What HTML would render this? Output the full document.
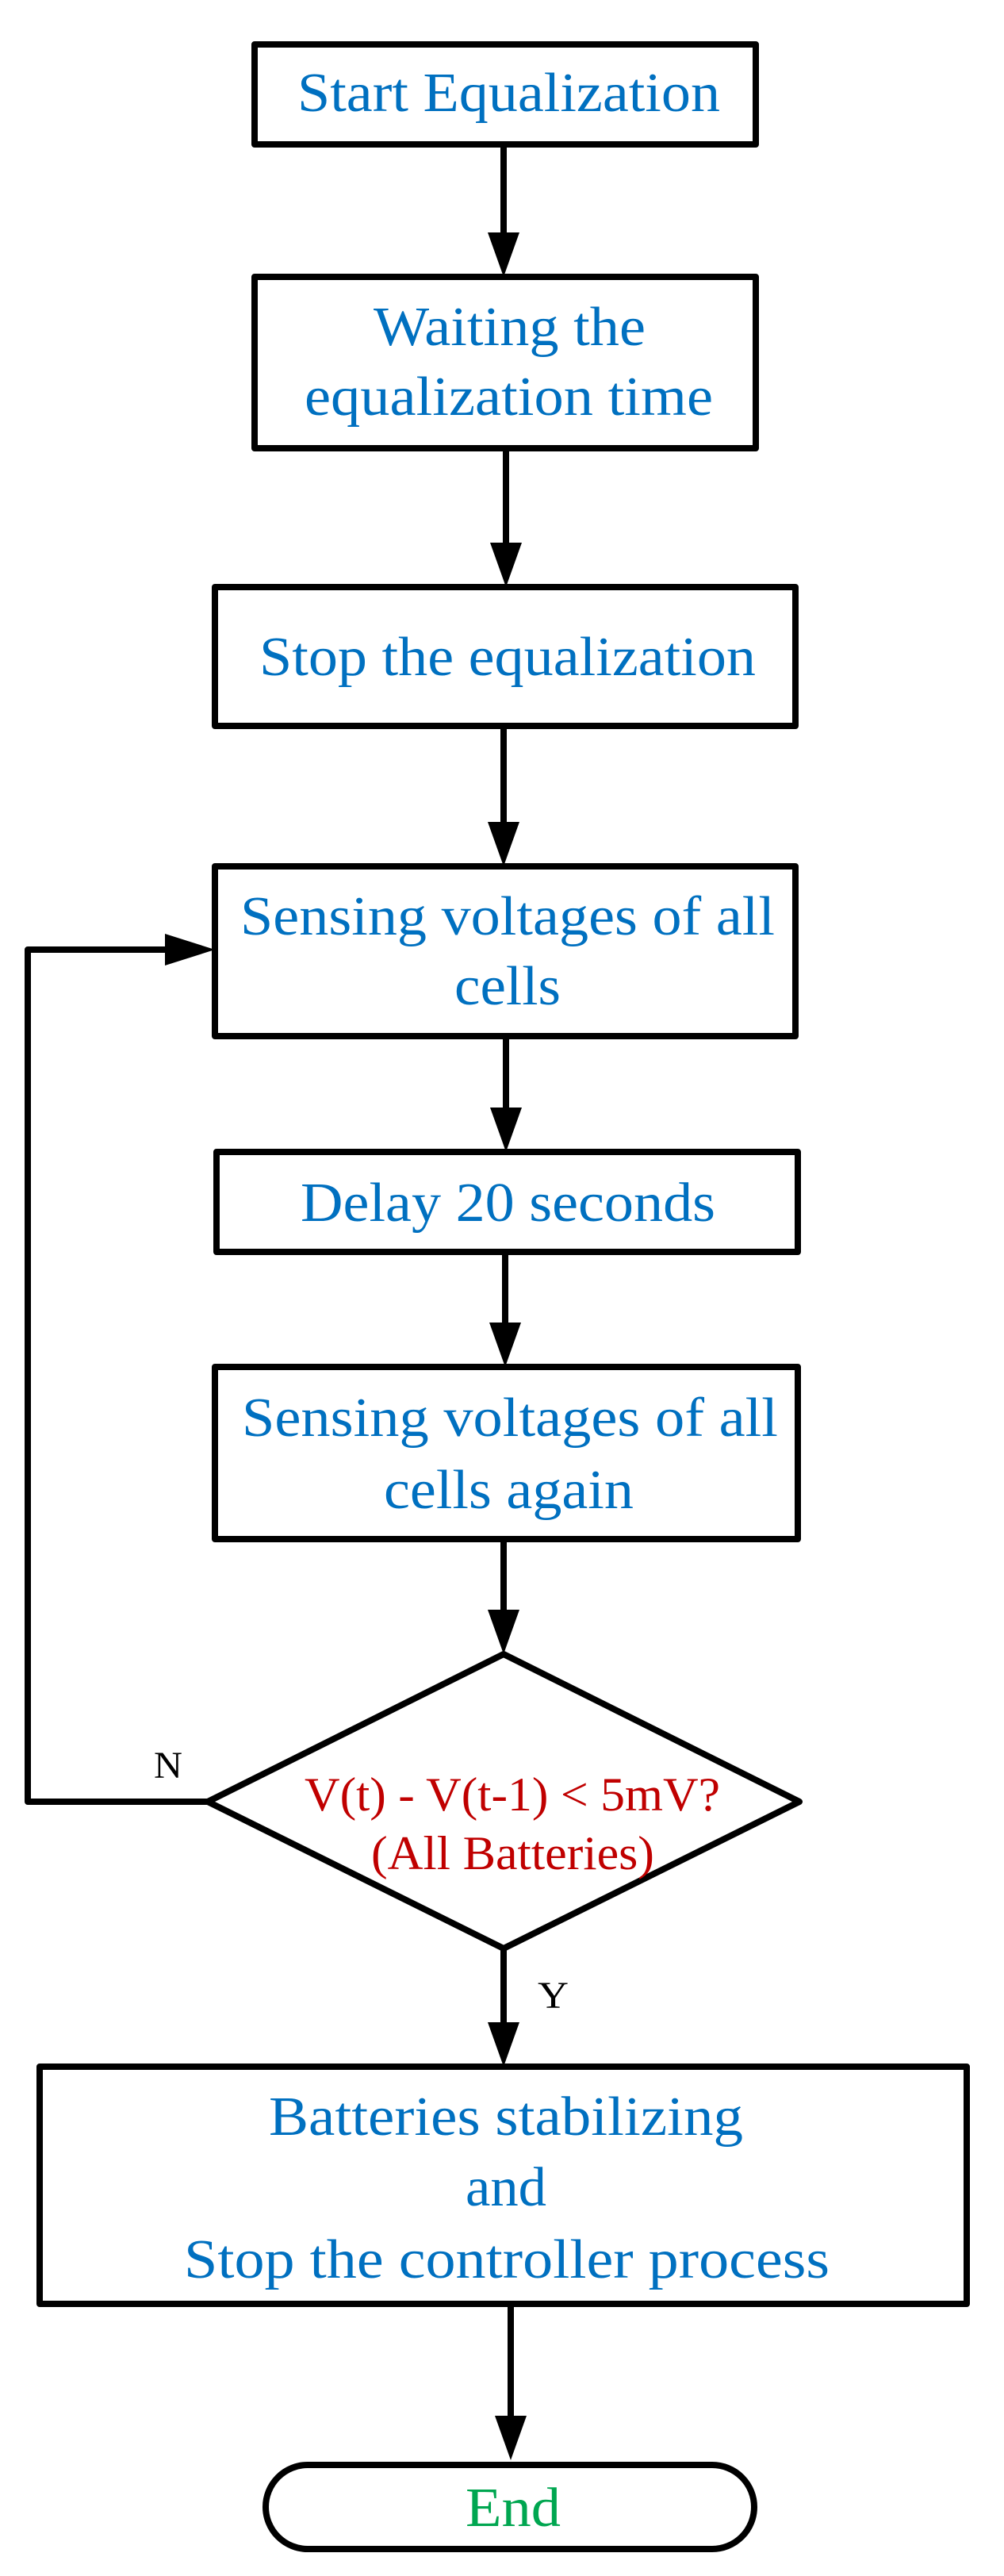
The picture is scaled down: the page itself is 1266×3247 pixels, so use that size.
<!DOCTYPE html>
<html><head><meta charset="utf-8"><style>
html,body{margin:0;padding:0;background:#fff;}
svg{display:block;}
text{font-family:"Liberation Serif",serif;}
</style></head><body>
<svg width="1266" height="3247" viewBox="0 0 1266 3247" xmlns="http://www.w3.org/2000/svg">
<g fill="none" stroke="#000" stroke-width="8" stroke-linejoin="round">
<rect x="321" y="56" width="632" height="126"/>
<rect x="321" y="349" width="632" height="216"/>
<rect x="271" y="740" width="732" height="175"/>
<rect x="271" y="1092" width="732" height="214"/>
<rect x="273" y="1452" width="733" height="126"/>
<rect x="271" y="1723" width="735" height="217"/>
<polygon points="635,2085 1008,2271 635,2456 262,2271"/>
<rect x="50" y="2605" width="1169" height="299"/>
<rect x="335" y="3107" width="616" height="106" rx="53" ry="53"/>
<line x1="635" y1="182" x2="635" y2="300"/>
<line x1="638" y1="565" x2="638" y2="690"/>
<line x1="635" y1="915" x2="635" y2="1045"/>
<line x1="638" y1="1306" x2="638" y2="1400"/>
<line x1="637" y1="1578" x2="637" y2="1670"/>
<line x1="635" y1="1940" x2="635" y2="2035"/>
<line x1="635" y1="2456" x2="635" y2="2555"/>
<line x1="644" y1="2904" x2="644" y2="3050"/>
<polyline points="262,2271 35,2271 35,1197 220,1197"/>
</g>
<g fill="#000" stroke="none">
<polygon points="615,293 655,293 635,349"/>
<polygon points="618,684 658,684 638,740"/>
<polygon points="615,1036 655,1036 635,1092"/>
<polygon points="618,1396 658,1396 638,1452"/>
<polygon points="617,1667 657,1667 637,1723"/>
<polygon points="615,2029 655,2029 635,2085"/>
<polygon points="615,2549 655,2549 635,2605"/>
<polygon points="624,3045 664,3045 644,3101"/>
<polygon points="208,1177 208,1217 271,1197"/>
</g>
<g fill="#0070c0" font-size="70">
<text x="375" y="140" textLength="533" lengthAdjust="spacingAndGlyphs">Start Equalization</text>
<text x="471" y="435" textLength="343" lengthAdjust="spacingAndGlyphs">Waiting the</text>
<text x="384" y="523" textLength="515" lengthAdjust="spacingAndGlyphs">equalization time</text>
<text x="327" y="851" textLength="626" lengthAdjust="spacingAndGlyphs">Stop the equalization</text>
<text x="303" y="1178" textLength="674" lengthAdjust="spacingAndGlyphs">Sensing voltages of all</text>
<text x="573" y="1266" textLength="134" lengthAdjust="spacingAndGlyphs">cells</text>
<text x="379" y="1539" textLength="523" lengthAdjust="spacingAndGlyphs">Delay 20 seconds</text>
<text x="305" y="1810" textLength="676" lengthAdjust="spacingAndGlyphs">Sensing voltages of all</text>
<text x="484" y="1901" textLength="315" lengthAdjust="spacingAndGlyphs">cells again</text>
<text x="339" y="2691" textLength="598" lengthAdjust="spacingAndGlyphs">Batteries stabilizing</text>
<text x="587" y="2780" textLength="102" lengthAdjust="spacingAndGlyphs">and</text>
<text x="232" y="2871" textLength="814" lengthAdjust="spacingAndGlyphs">Stop the  controller process</text>
</g>
<g fill="#c00000" font-size="60">
<text x="384" y="2282" textLength="524" lengthAdjust="spacingAndGlyphs">V(t) - V(t-1) &lt; 5mV?</text>
<text x="468" y="2356" textLength="357" lengthAdjust="spacingAndGlyphs">(All Batteries)</text>
</g>
<text x="587" y="3184" fill="#00a650" font-size="70" textLength="120" lengthAdjust="spacingAndGlyphs">End</text>
<text x="194" y="2241" fill="#000" font-size="48" textLength="36" lengthAdjust="spacingAndGlyphs">N</text>
<text x="678" y="2531" fill="#000" font-size="48" textLength="39" lengthAdjust="spacingAndGlyphs">Y</text>
</svg>
</body></html>
